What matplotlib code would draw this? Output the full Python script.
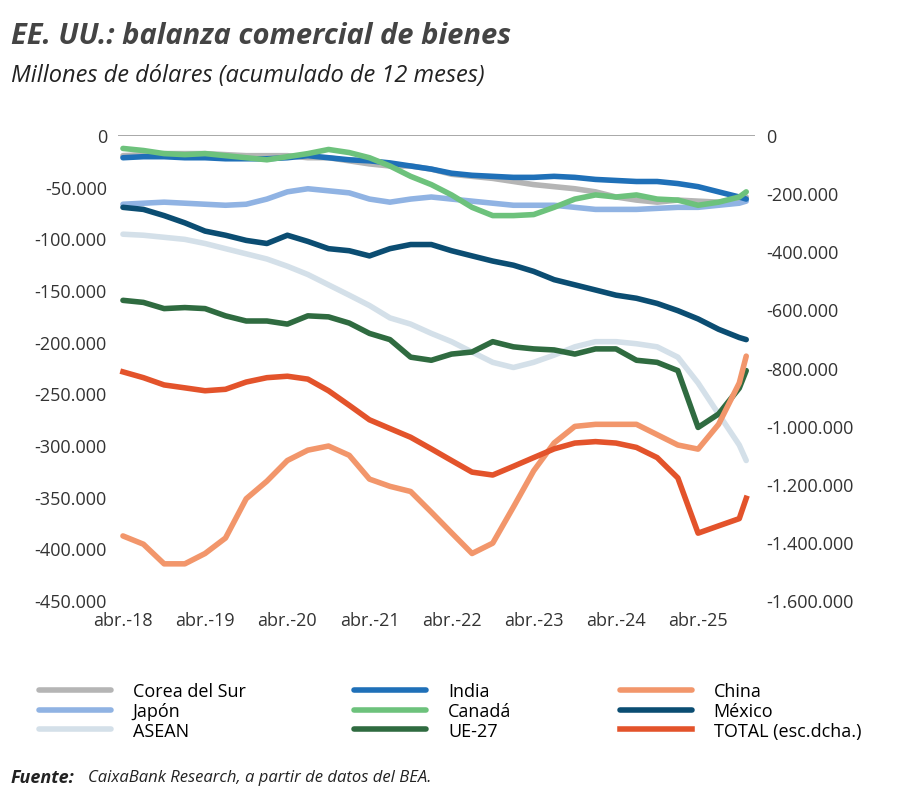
import matplotlib
matplotlib.use("Agg")
import matplotlib.pyplot as plt
import pandas as pd
from matplotlib.ticker import FuncFormatter

plt.rcParams['font.family'] = ['Open Sans', 'DejaVu Sans']

# quarterly points Apr-18 .. Oct-25, plus Nov-25
dates = list(pd.date_range('2018-04-01', '2025-10-01', freq='3MS')) + [pd.Timestamp('2025-11-01')]

# thousands of USD millions (left axis)
corea = [-20,-19,-18,-18,-18,-19,-20,-20,-20,-22,-22,-25,-28,-30,-30,-33,-38,-40,-42,-45,-48,-50,-52,-55,-60,-63,-65,-63,-64,-65,-62,-60]
japon = [-67,-66,-65,-66,-67,-68,-67,-62,-55,-52,-54,-56,-62,-65,-62,-60,-62,-64,-66,-68,-68,-68,-70,-72,-72,-72,-71,-70,-70,-68,-66,-64]
asean = [-96,-97,-99,-101,-105,-110,-115,-120,-127,-135,-145,-155,-165,-177,-183,-192,-200,-210,-220,-225,-220,-213,-205,-200,-200,-202,-205,-215,-240,-270,-300,-315]
india = [-22,-21,-21,-22,-22,-23,-23,-23,-22,-20,-22,-24,-25,-27,-30,-33,-37,-39,-40,-41,-41,-40,-41,-43,-44,-45,-45,-47,-50,-55,-60,-62]
canada = [-13,-15,-18,-19,-18,-20,-22,-24,-21,-18,-14,-17,-22,-30,-40,-48,-58,-70,-78,-78,-77,-70,-62,-58,-60,-58,-62,-63,-68,-65,-60,-55]
ue27 = [-160,-162,-168,-167,-168,-175,-180,-180,-183,-175,-176,-182,-192,-198,-215,-218,-212,-210,-200,-205,-207,-208,-212,-207,-207,-218,-220,-228,-283,-270,-245,-228]
china = [-388,-396,-415,-415,-405,-390,-352,-335,-315,-305,-301,-310,-333,-340,-345,-365,-385,-405,-395,-360,-325,-298,-282,-280,-280,-280,-290,-300,-304,-280,-240,-214]
mexico = [-70,-72,-78,-85,-93,-97,-102,-105,-97,-103,-110,-112,-117,-110,-106,-106,-112,-117,-122,-126,-132,-140,-145,-150,-155,-158,-163,-170,-178,-188,-196,-198]
# right axis
total = [-815,-835,-860,-870,-880,-875,-850,-835,-830,-840,-880,-930,-980,-1010,-1040,-1080,-1120,-1160,-1170,-1140,-1110,-1080,-1060,-1055,-1060,-1075,-1110,-1180,-1370,-1345,-1320,-1250]

series = [
    ('Corea del Sur', corea, '#b5b5b5'),
    ('Japón', japon, '#90b3e3'),
    ('ASEAN', asean, '#d4e0e9'),
    ('India', india, '#1f70b8'),
    ('Canadá', canada, '#6dc27c'),
    ('UE-27', ue27, '#2f6b40'),
    ('China', china, '#f2966b'),
    ('México', mexico, '#0b4d72'),
]

fig = plt.figure(figsize=(9, 8.03), dpi=100)
ax = fig.add_axes([118/900, 1-601/803, (755-118)/900, (601-136)/803])
ax2 = ax.twinx()

handles = []
for name, vals, col in series:
    h, = ax.plot(dates, [v*1000 for v in vals], color=col, lw=4, label=name, solid_capstyle='round')
    handles.append(h)
h, = ax2.plot(dates, [v*1000 for v in total], color='#e3532b', lw=4, label='TOTAL (esc.dcha.)')
handles.append(h)

fmt = FuncFormatter(lambda v, p: f'{v:,.0f}'.replace(',', '.'))
ax.set_ylim(-450000, 0)
ax2.set_ylim(-1600000, 0)
ax.set_yticks(range(-450000, 1, 50000))
ax2.set_yticks(range(-1600000, 1, 200000))
ax.yaxis.set_major_formatter(fmt)
ax2.yaxis.set_major_formatter(fmt)
ax.set_xlim(pd.Timestamp('2018-03-10'), pd.Timestamp('2025-12-10'))
ticks = [pd.Timestamp(f'{y}-04-01') for y in range(2018, 2026)]
ax.set_xticks(ticks)
ax.set_xticklabels([f'abr.-{str(t.year)[2:]}' for t in ticks])
for a in (ax, ax2):
    for s in a.spines.values():
        s.set_visible(False)
    a.tick_params(length=0, labelsize=13, colors='#333333', pad=8)
ax.axhline(0, color='#999999', lw=1.2)

fig.text(0.012, 0.955, 'EE. UU.: balanza comercial de bienes', fontsize=21, fontweight='bold',
         style='italic', color='#444444', va='center')
fig.text(0.012, 0.905, 'Millones de dólares (acumulado de 12 meses)', fontsize=17,
         style='italic', color='#222222', va='center')

fig.legend(handles=handles, loc='center', bbox_to_anchor=(0.5, 1-712/803), ncol=3,
           frameon=False, fontsize=13, handlelength=4, columnspacing=6, labelspacing=0.1,
           handletextpad=1.2)

fig.text(0.012, 1-778/803, 'Fuente:', fontsize=13, fontweight='bold', style='italic',
         color='#222222', va='center')
fig.text(0.098, 1-778/803, 'CaixaBank Research, a partir de datos del BEA.',
         fontsize=12, style='italic', color='#222222', va='center')

fig.savefig('out.png', dpi=100)
